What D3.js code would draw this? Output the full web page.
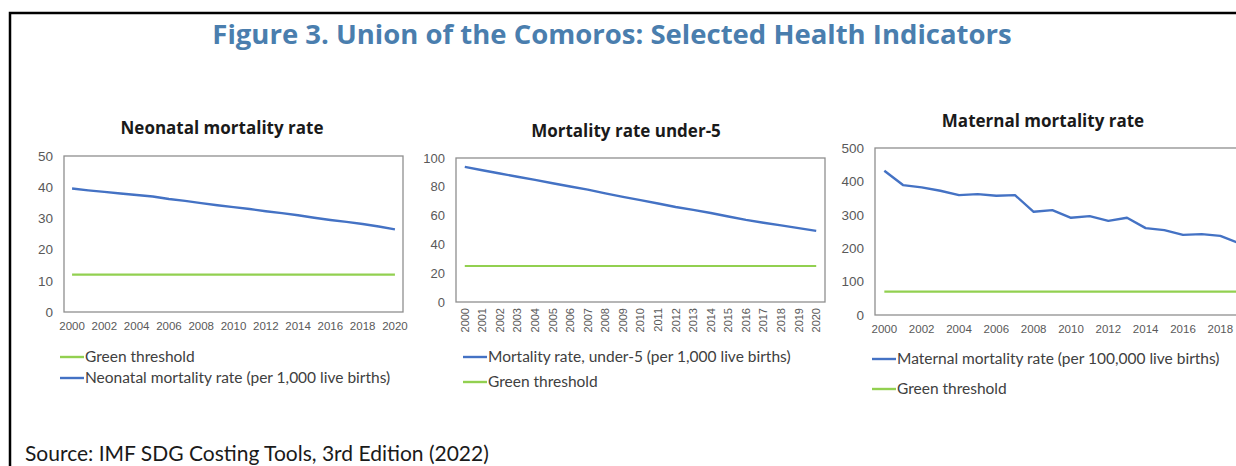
<!DOCTYPE html>
<html>
<head>
<meta charset="utf-8">
<script src="https://cdn.jsdelivr.net/npm/d3@7"></script>
<style>
	body { margin: 0; background: #fff; overflow: hidden; }
	svg { display: block; font-family: Lato, "Open Sans", sans-serif; }
	.tick text { fill: #595959; }
	.chart-title { font-weight: bold; fill: #1a1a1a; font-family: "Open Sans", sans-serif; }
	.legend-text { fill: #404040; }
</style>
</head>
<body>
<svg id="fig" width="1236" height="466"></svg>
<script>
var years = [2000, 2001, 2002, 2003, 2004, 2005, 2006, 2007, 2008, 2009, 2010,
	2011, 2012, 2013, 2014, 2015, 2016, 2017, 2018, 2019, 2020];

var neonatalRate = [39.6, 39.0, 38.5, 38.0, 37.5, 37.0, 36.2, 35.6, 34.9, 34.2, 33.6,
	33.0, 32.3, 31.7, 31.0, 30.2, 29.5, 28.9, 28.2, 27.4, 26.5];
var neonatalThreshold = 12;

var under5Rate = [93.8, 91.5, 89.2, 87.0, 84.8, 82.5, 80.2, 78.0, 75.4, 73.0, 70.7,
	68.4, 66.0, 64.0, 61.8, 59.4, 57.0, 55.0, 53.2, 51.3, 49.4];
var under5Threshold = 25;

// 2020 is cut off at the page edge in the source figure
var maternalYears = [2000, 2001, 2002, 2003, 2004, 2005, 2006, 2007, 2008, 2009,
	2010, 2011, 2012, 2013, 2014, 2015, 2016, 2017, 2018, 2019];
var maternalRate = [432, 389, 382, 372, 359, 362, 357, 359, 309, 314,
	291, 296, 282, 291, 260, 254, 240, 242, 237, 215];
var maternalThreshold = 70;

var blue = '#4472c4';
var green = '#92d050';
var pageWidth = 1236;

var svg = d3.select('#fig');

// outer frame (figure box runs off the page on the right and bottom)
svg.append('path')
	.attr('d', 'M10,466 V13 H1236')
	.attr('fill', 'none')
	.attr('stroke', '#000')
	.attr('stroke-width', 2.5);

svg.append('text')
	.attr('x', 612)
	.attr('y', 44)
	.attr('text-anchor', 'middle')
	.attr('font-size', 27.5)
	.attr('font-weight', 'bold')
	.attr('font-family', '"Open Sans", sans-serif')
	.attr('fill', '#4a7eae')
	.text('Figure 3. Union of the Comoros: Selected Health Indicators');

svg.append('text')
	.attr('x', 25)
	.attr('y', 461)
	.attr('font-size', 21)
	.attr('fill', '#1a1a1a')
	.text('Source: IMF SDG Costing Tools, 3rd Edition (2022)');

function renderPanel(p)
{
	var g = svg.append('g');

	var xScale = d3.scaleBand()
		.domain(years)
		.range([p.left, p.right])
		.padding(0);
	var half = xScale.bandwidth() / 2;

	var yScale = d3.scaleLinear()
		.domain([0, p.yMax])
		.range([p.bottom, p.top]);

	g.append('text')
		.attr('class', 'chart-title')
		.attr('x', p.titleX)
		.attr('y', p.titleY)
		.attr('text-anchor', 'middle')
		.attr('font-size', 17)
		.text(p.title);

	var yAxis = g.append('g')
		.attr('transform', 'translate(' + (p.left - 6) + ',0)')
		.call(d3.axisLeft(yScale).ticks(5).tickSize(0).tickPadding(5));
	yAxis.select('.domain').remove();
	yAxis.selectAll('text').attr('font-size', p.yFont).attr('font-family', 'inherit');

	// labels past the page edge are not shown in the source
	var xTicks = years.filter(function(y, i){
		return i % p.every == 0 && xScale(y) + half + 10 < pageWidth;
	});
	var xAxis = g.append('g')
		.attr('transform', 'translate(0,' + p.bottom + ')')
		.call(d3.axisBottom(xScale).tickValues(xTicks).tickSize(0).tickPadding(p.rotate ? 6 : 10));
	xAxis.select('.domain').remove();
	xAxis.selectAll('text').attr('font-size', p.xFont).attr('font-family', 'inherit');
	if(p.rotate)
	{
		xAxis.selectAll('text')
			.attr('transform', 'rotate(-90)')
			.attr('text-anchor', 'end')
			.attr('x', -6)
			.attr('y', 0)
			.attr('dy', '0.35em');
	}

	g.append('rect')
		.attr('x', p.left)
		.attr('y', p.top)
		.attr('width', p.right - p.left)
		.attr('height', p.bottom - p.top)
		.attr('fill', 'none')
		.attr('stroke', '#8f8f8f')
		.attr('stroke-width', 1.3);

	var line = d3.line()
		.x(function(d){ return xScale(d[0]) + half; })
		.y(function(d){ return yScale(d[1]); });

	var seriesData = p.years.map(function(y, i){ return [y, p.values[i]]; });
	var thresholdData = years.map(function(y){ return [y, p.threshold]; });

	g.append('path')
		.datum(thresholdData)
		.attr('d', line)
		.attr('fill', 'none')
		.attr('stroke', green)
		.attr('stroke-width', 2.2);

	g.append('path')
		.datum(seriesData)
		.attr('d', line)
		.attr('fill', 'none')
		.attr('stroke', blue)
		.attr('stroke-width', 2.4)
		.attr('stroke-linejoin', 'round');

	var legend = g.selectAll('g.legend')
		.data(p.legend).enter()
		.append('g')
		.attr('class', 'legend')
		.attr('transform', function(d, i){ return 'translate(' + p.legendX + ',' + p.legendY[i] + ')'; });
	legend.append('line')
		.attr('x1', 0)
		.attr('x2', 24)
		.attr('stroke', function(d){ return d.color; })
		.attr('stroke-width', 2.4);
	legend.append('text')
		.attr('class', 'legend-text')
		.attr('x', 25)
		.attr('dy', '0.35em')
		.attr('font-size', 15.5)
		.text(function(d){ return d.label; });
}

renderPanel({
	title: 'Neonatal mortality rate', titleX: 222, titleY: 134,
	left: 64, right: 403, top: 156, bottom: 312,
	yMax: 50, yFont: 13.5, xFont: 11.5, every: 2, rotate: false,
	years: years, values: neonatalRate, threshold: neonatalThreshold,
	legendX: 60, legendY: [357, 378],
	legend: [
		{ label: 'Green threshold', color: green },
		{ label: 'Neonatal mortality rate (per 1,000 live births)', color: blue }
	]
});

renderPanel({
	title: 'Mortality rate under-5', titleX: 626, titleY: 137,
	left: 456, right: 825, top: 158, bottom: 302,
	yMax: 100, yFont: 13, xFont: 11, every: 1, rotate: true,
	years: years, values: under5Rate, threshold: under5Threshold,
	legendX: 463, legendY: [357, 382],
	legend: [
		{ label: 'Mortality rate, under-5 (per 1,000 live births)', color: blue },
		{ label: 'Green threshold', color: green }
	]
});

renderPanel({
	title: 'Maternal mortality rate', titleX: 1043, titleY: 127,
	left: 875, right: 1267, top: 148, bottom: 315,
	yMax: 500, yFont: 13.5, xFont: 11.5, every: 2, rotate: false,
	years: maternalYears, values: maternalRate, threshold: maternalThreshold,
	legendX: 872, legendY: [359, 389],
	legend: [
		{ label: 'Maternal mortality rate (per 100,000 live births)', color: blue },
		{ label: 'Green threshold', color: green }
	]
});
</script>
</body>
</html>
